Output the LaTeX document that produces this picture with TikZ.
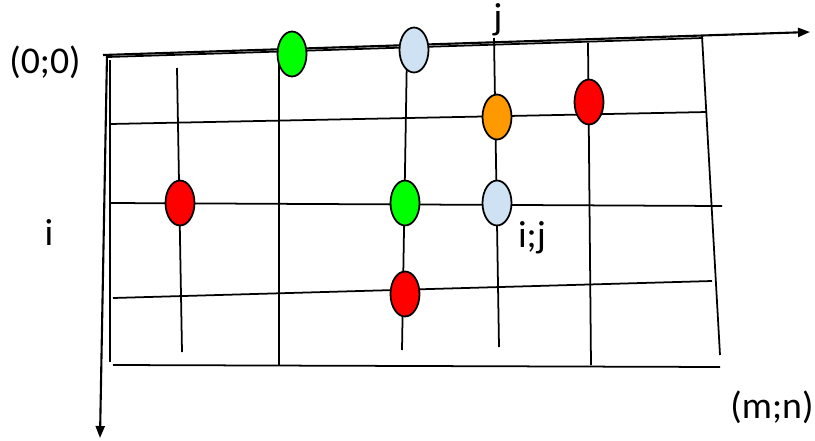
\documentclass[tikz,border=0pt]{standalone}
\usepackage{fontspec}
\setmainfont{Carlito}
\usepackage{tikz}
\usetikzlibrary{arrows.meta,shapes.geometric}
\definecolor{dred}{HTML}{FF0000}
\definecolor{dgreen}{HTML}{00FF00}
\definecolor{dblue}{HTML}{CFE2F3}
\definecolor{dorange}{HTML}{FF9900}
\tikzset{
  >={Triangle[length=2.4mm,width=1.8mm]},
  gline/.style={draw=black,line width=1pt},
  axis/.style={->,draw=black,line width=1.2pt},
  dot/.style={ellipse,draw=black,line width=1pt,minimum width=5.8mm,minimum height=9mm,inner sep=0pt},
  rdot/.style={dot,fill=dred},
  gdot/.style={dot,fill=dgreen},
  bdot/.style={dot,fill=dblue},
  odot/.style={dot,fill=dorange},
  lab/.style={font=\fontsize{21.5}{25}\selectfont,inner sep=0pt},
}
\begin{document}
\begin{tikzpicture}[x=0.02cm,y=-0.02cm]
\useasboundingbox (0,0) rectangle (815,440);
% axes
\coordinate (o) at (103,55);
\coordinate (o2) at (107,55);
\coordinate (jend) at (810,32);
\coordinate (iend) at (100,438);
% frame
\coordinate (tl) at (108,57);  \coordinate (tr) at (703,38);
\coordinate (lt) at (110,60);  \coordinate (lb) at (110,362);
\coordinate (bl) at (113,365); \coordinate (br) at (720,367);
\coordinate (rt) at (702,36);  \coordinate (rb) at (720,355);
% rows
\coordinate (h1a) at (110,124); \coordinate (h1b) at (707,112);
\coordinate (h2a) at (110,203); \coordinate (h2b) at (722,206);
\coordinate (h3a) at (113,298); \coordinate (h3b) at (712,281);
% columns
\coordinate (v1a) at (177,68);  \coordinate (v1b) at (182,352);
\coordinate (v2a) at (279,52);  \coordinate (v2b) at (279,365);
\coordinate (v3a) at (407,50);  \coordinate (v3b) at (402,350);
\coordinate (v4a) at (494,38);  \coordinate (v4b) at (499,347);
\coordinate (v5a) at (588,43);  \coordinate (v5b) at (591,365);
\foreach \u/\v in {tl/tr,lt/lb,bl/br,rt/rb,h1a/h1b,h2a/h2b,h3a/h3b,v1a/v1b,v2a/v2b,v3a/v3b,v4a/v4b,v5a/v5b}
  \draw[gline] (\u)--(\v);
\draw[axis] (o)--(jend);
\draw[axis] (o2)--(iend);
% marked cells
\node[gdot] (g1) at (292,54) {};
\node[bdot] (b1) at (414,50) {};
\node[odot] (o1) at (497,117) {};
\node[rdot] (r1) at (589,102) {};
\node[rdot] (r2) at (180,203) {};
\node[gdot] (g2) at (405,203) {};
\node[bdot] (b2) at (497,203) {};
\node[rdot] (r3) at (405,294) {};
% labels
\node[lab] (zero) at (45,62) {(0;0)};
\node[lab] (jlab) at (498,20) {j};
\node[lab] (ilab) at (49,232) {i};
\node[lab] (ijlab) at (532,238) {i;j};
\node[lab] (mn) at (772,407) {(m;n)};
\end{tikzpicture}
\end{document}
